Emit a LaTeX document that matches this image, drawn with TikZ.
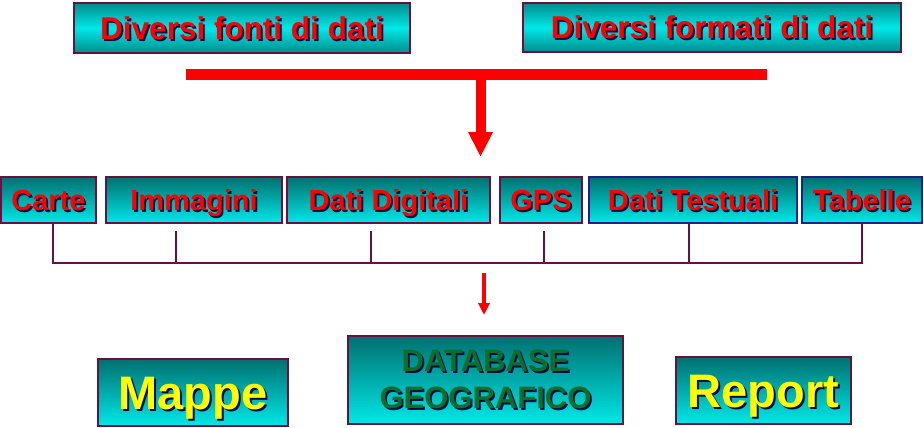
\documentclass[tikz,border=0pt]{standalone}
\usepackage{fontspec}
\setmainfont{Liberation Sans}
\usetikzlibrary{arrows.meta,calc}
\definecolor{tealtop}{RGB}{0,112,112}
\definecolor{cyanbot}{RGB}{0,232,232}
\definecolor{tealband}{RGB}{0,140,140}
\definecolor{maroon}{RGB}{105,16,64}
\definecolor{navyb}{RGB}{30,30,140}
\definecolor{shad}{RGB}{10,10,70}
\definecolor{txtred}{RGB}{255,0,0}
\definecolor{txtyel}{RGB}{255,255,0}
\definecolor{txtgrn}{RGB}{10,110,45}
\definecolor{arrred}{RGB}{255,0,0}
\newcommand\shtxt[2]{\makebox[0pt][l]{\hspace*{1.8pt}\raisebox{-1.8pt}{\textcolor{shad}{#2}}}\textcolor{#1}{#2}}
\tikzset{
  gradbox/.style={rectangle, inner sep=0pt, draw=maroon, line width=1.5pt,
    top color=tealtop, bottom color=cyanbot},
  bandbox/.style={rectangle, inner sep=0pt, draw=maroon, line width=2.5pt,
    top color=tealband, bottom color=tealband, middle color=cyanbot},
  toptext/.style={font=\fontsize{31.5}{36}\selectfont\bfseries, text height=22.6pt, text depth=0pt},
  midtext/.style={font=\fontsize{29}{33}\selectfont\bfseries, text height=20.8pt, text depth=0pt},
  bigtext/.style={font=\fontsize{47}{52}\selectfont\bfseries, text height=33.7pt, text depth=0pt},
  conn/.style={draw=maroon, line width=2.8pt},
}
\begin{document}
\begin{tikzpicture}[x=1pt,y=-1pt]
\useasboundingbox[fill=white] (0,0) rectangle (924,428);
% top boxes
\node[bandbox, toptext, minimum width=336pt, minimum height=50pt] (fonti) at (242,28) {\shtxt{txtred}{Diversi fonti di dati}};
\node[bandbox, toptext, minimum width=378pt, minimum height=49pt] (formati) at (712,27.5) {\shtxt{txtred}{Diversi formati di dati}};
% red bar and arrow
\coordinate (barL) at (186,74.5);
\coordinate (barR) at (767,74.5);
\coordinate (barM) at (480.5,79);
\coordinate (barTip) at (480.5,157);
\draw[arrred, line width=11pt] (barL) -- (barR);
\draw[arrred, line width=10pt, -{Triangle[width=23pt,length=25pt]}] (barM) -- (barTip);
% middle row
\node[gradbox, midtext, minimum width=95pt, minimum height=46pt] (carte) at (48.5,200) {\shtxt{txtred}{Carte}};
\node[gradbox, midtext, minimum width=176pt, minimum height=46pt] (imm) at (194,200) {\shtxt{txtred}{Immagini}};
\node[gradbox, midtext, minimum width=203pt, minimum height=46pt] (dig) at (388.5,200) {\shtxt{txtred}{Dati Digitali}};
\node[gradbox, midtext, minimum width=82pt, minimum height=46pt] (gps) at (541,200) {\shtxt{txtred}{GPS}};
\node[gradbox, midtext, draw=navyb, minimum width=208pt, minimum height=46pt] (test) at (693,200) {\shtxt{txtred}{Dati Testuali}};
\node[gradbox, midtext, draw=navyb, minimum width=120pt, minimum height=46pt] (tab) at (862,200) {\shtxt{txtred}{Tabelle}};
% bus
\coordinate (b1) at (53,263);
\coordinate (b2) at (176,263);
\coordinate (b3) at (371,263);
\coordinate (b4) at (544,263);
\coordinate (b5) at (689,263);
\coordinate (b6) at (862,263);
\draw[conn] (carte.south -| b1) -- (b1) -- (b6) -- (tab.south -| b6);
\draw[conn] ([yshift=-7pt]imm.south -| b2) -- (b2);
\draw[conn] ([yshift=-7pt]dig.south -| b3) -- (b3);
\draw[conn] ([yshift=-7pt]gps.south -| b4) -- (b4);
\draw[conn] (test.south -| b5) -- (b5);
% small arrow
\coordinate (sa1) at (484,273);
\coordinate (sa2) at (484,315);
\draw[arrred, line width=3.5pt, -{Triangle[width=11pt,length=12pt]}] (sa1) -- (sa2);
% bottom row
\node[gradbox, bigtext, minimum width=190pt, minimum height=67pt] (mappe) at (193,392.5) {\shtxt{txtyel}{Mappe}};
\node[gradbox, minimum width=275pt, minimum height=88pt, align=center,
  font=\fontsize{31}{37}\selectfont\bfseries] (db) at (485.5,380) {\shtxt{txtgrn}{DATABASE}\\\shtxt{txtgrn}{GEOGRAFICO}};
\node[gradbox, bigtext, minimum width=175pt, minimum height=67pt] (report) at (763.5,390.5) {\shtxt{txtyel}{Report}};
\end{tikzpicture}
\end{document}
